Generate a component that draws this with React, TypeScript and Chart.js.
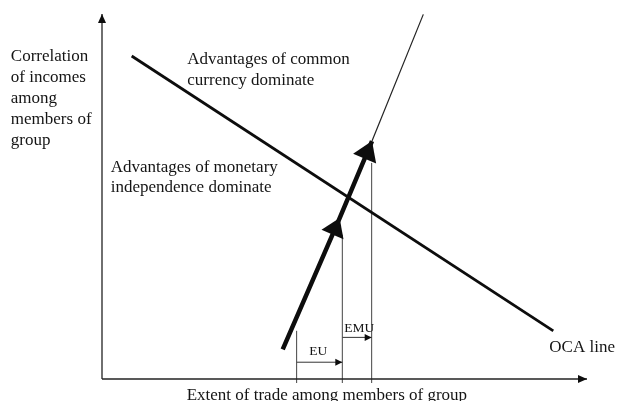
import { useEffect, useRef } from "react";
import { Chart, registerables } from "chart.js";

Chart.register(...registerables);

// ---- data (in the diagram's own units: x = extent of trade, y = income correlation) ----
const ocaX = [6.12, 93.05];
const ocaY = [88.5, 13.2];
const pathX = [37.26, 49.0, 55.67]; // start, EU arrowhead, EMU arrowhead
const pathY = [8.14, 44.1, 65.2];
const extX = [55.67, 66.25];
const extY = [65.2, 99.9];
const markerX = [40.13, 49.55, 55.6]; // EU start, EU end / EMU start, EMU end
const markerTop = [13.2, 39.5, 59.2];
const markerBottom = -1.1;
const euArrowY = 4.6;
const emuArrowY = 11.4;

// ---- text ----
const yTitleLines = ["Correlation", "of incomes", "among", "members of", "group"];
const xTitle = "Extent of trade among members of group";
const commonLines = ["Advantages of common", "currency dominate"];
const monetaryLines = ["Advantages of monetary", "independence dominate"];
const euLabel = "EU";
const emuLabel = "EMU";
const ocaLabel = "OCA line";

const SERIF = '"Liberation Serif", "Times New Roman", serif';

type Note = { lines: string[]; x: number; y: number; size: number; lh: number };
const notes: Note[] = [
  { lines: yTitleLines, x: -18.8, y: 87.2, size: 17, lh: 21 },
  { lines: commonLines, x: 17.59, y: 86.3, size: 17, lh: 20.5 },
  { lines: monetaryLines, x: 1.79, y: 56.58, size: 17, lh: 19.8 },
  { lines: [euLabel], x: 42.74, y: 6.58, size: 13.5, lh: 14 },
  { lines: [emuLabel], x: 49.96, y: 12.96, size: 13.5, lh: 14 },
  { lines: [ocaLabel], x: 92.23, y: 7.48, size: 17, lh: 20 },
  { lines: [xTitle], x: 17.46, y: -5.62, size: 17, lh: 20 },
];

const pts = (xs: number[], ys: number[]) => xs.map((x, i) => ({ x, y: ys[i] }));

const arrowPlugin = {
  id: "arrowsAndNotes",
  afterDatasetsDraw(chart: any) {
    const ctx = chart.ctx as CanvasRenderingContext2D;
    ctx.save();
    chart.data.datasets.forEach((ds: any, di: number) => {
      if (!ds.arrowAt) return;
      const meta = chart.getDatasetMeta(di);
      ds.arrowAt.forEach((a: any) => {
        const tip = meta.data[a.i];
        const from = meta.data[a.i - 1];
        const dx = tip.x - from.x;
        const dy = tip.y - from.y;
        const d = Math.hypot(dx, dy) || 1;
        const ux = dx / d;
        const uy = dy / d;
        const bx = tip.x - ux * a.len;
        const by = tip.y - uy * a.len;
        ctx.beginPath();
        ctx.moveTo(tip.x, tip.y);
        ctx.lineTo(bx - uy * a.hw, by + ux * a.hw);
        ctx.lineTo(bx + uy * a.hw, by - ux * a.hw);
        ctx.closePath();
        ctx.fillStyle = a.color || "#0d0d0d";
        ctx.fill();
      });
    });
    const xs = chart.scales.x;
    const ys = chart.scales.y;
    ctx.fillStyle = "#141414";
    ctx.textBaseline = "alphabetic";
    ctx.textAlign = "left";
    notes.forEach((n) => {
      ctx.font = `${n.size}px ${SERIF}`;
      const px = xs.getPixelForValue(n.x);
      const py = ys.getPixelForValue(n.y);
      n.lines.forEach((line, k) => ctx.fillText(line, px, py + k * n.lh));
    });
    ctx.restore();
  },
};

export default function App() {
  const ref = useRef<HTMLCanvasElement>(null);
  useEffect(() => {
    if (!ref.current) return;
    const line = (data: any[], color: string, width: number, extra: any = {}) => ({
      data,
      borderColor: color,
      borderWidth: width,
      showLine: true,
      pointRadius: 0,
      fill: false,
      clip: false,
      tension: 0,
      borderCapStyle: "butt",
      ...extra,
    });
    const datasets: any[] = [
      line([{ x: 0, y: 0 }, { x: 100, y: 0 }], "#222", 1.3, { arrowAt: [{ i: 1, len: 9, hw: 4 }] }),
      line([{ x: 0, y: 0 }, { x: 0, y: 100 }], "#222", 1.3, { arrowAt: [{ i: 1, len: 9, hw: 4 }] }),
      line(pts(ocaX, ocaY), "#0d0d0d", 2.8),
      line(pts(pathX, pathY), "#0d0d0d", 4.5, {
        arrowAt: [
          { i: 1, len: 18, hw: 12 },
          { i: 2, len: 19, hw: 12.5 },
        ],
      }),
      line(pts(extX, extY), "#222", 1.2),
      ...markerX.map((mx, k) =>
        line([{ x: mx, y: markerBottom }, { x: mx, y: markerTop[k] }], "#444", 1)
      ),
      line([{ x: markerX[0], y: euArrowY }, { x: markerX[1], y: euArrowY }], "#333", 1, {
        arrowAt: [{ i: 1, len: 7, hw: 3.5 }],
      }),
      line([{ x: markerX[1], y: emuArrowY }, { x: markerX[2], y: emuArrowY }], "#333", 1, {
        arrowAt: [{ i: 1, len: 7, hw: 3.5 }],
      }),
    ];
    const chart = new Chart(ref.current, {
      type: "scatter",
      data: { datasets },
      options: {
        responsive: false,
        animation: false,
        devicePixelRatio: 1,
        layout: { padding: { left: 102, right: 30, top: 14, bottom: 22 } },
        plugins: { legend: { display: false }, tooltip: { enabled: false } },
        events: [],
        scales: {
          x: { type: "linear", min: 0, max: 100, display: false },
          y: { type: "linear", min: 0, max: 100, display: false },
        },
      },
      plugins: [arrowPlugin],
    });
    return () => chart.destroy();
  }, []);
  return (
    <div style={{ position: "absolute", left: 0, top: 0, width: 617, height: 401, background: "#fff" }}>
      <canvas ref={ref} width={617} height={401} style={{ display: "block" }} />
    </div>
  );
}
